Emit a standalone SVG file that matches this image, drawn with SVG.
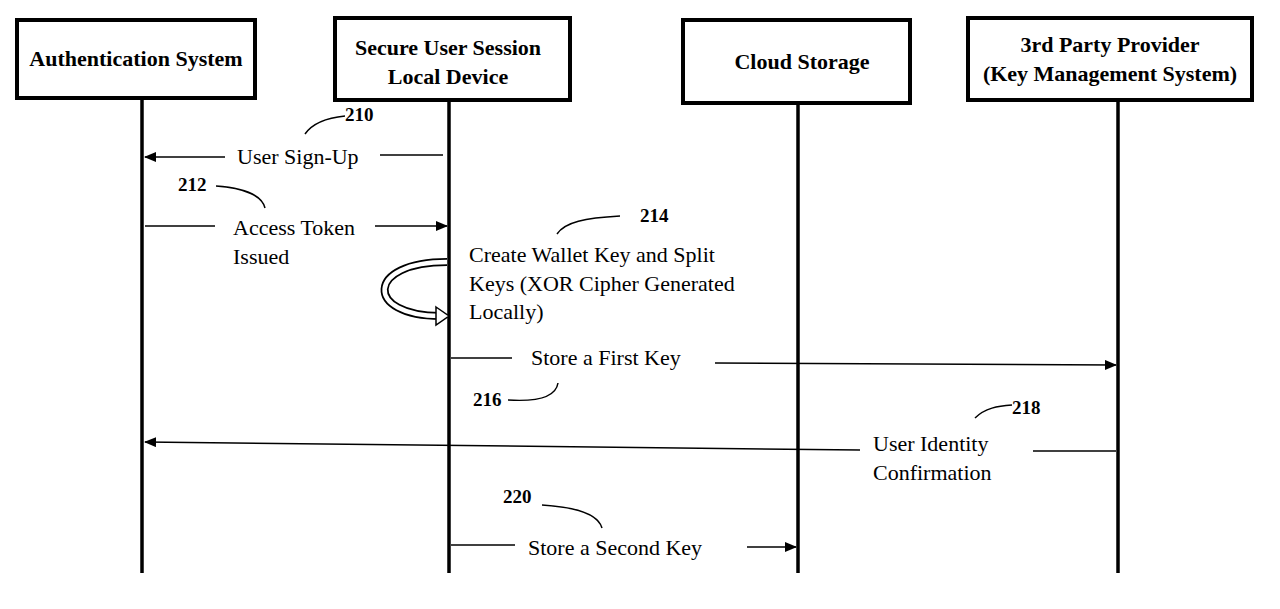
<svg xmlns="http://www.w3.org/2000/svg" width="1280" height="609" viewBox="0 0 1280 609">
<defs>
<marker id="ah" markerWidth="12" markerHeight="10" refX="11" refY="5" orient="auto" markerUnits="userSpaceOnUse"><path d="M0,0 L12,5 L0,10 Z" fill="#000"/></marker>
</defs>
<style>
.box{fill:#fff;stroke:#000;stroke-width:4}
.hd{font-family:"Liberation Serif",serif;font-weight:bold;font-size:22px;text-anchor:middle}
.t{font-family:"Liberation Serif",serif;font-size:22px}
.n{font-family:"Liberation Serif",serif;font-weight:bold;font-size:19px}
.life{stroke:#000;stroke-width:3.5}
.m{stroke:#000;stroke-width:1.5;fill:none}
.c{stroke:#000;stroke-width:1.5;fill:none}
</style>
<rect width="1280" height="609" fill="#fff"/>
<g id="lifelines">
<line class="life" x1="142" y1="98" x2="142" y2="573"/>
<line class="life" x1="449" y1="100" x2="449" y2="573"/>
<line class="life" x1="798" y1="103" x2="798" y2="573"/>
<line class="life" x1="1118" y1="100" x2="1118" y2="573"/>
</g>
<g id="auth"><rect class="box" x="17" y="20" width="238" height="78"/><text class="hd" x="136" y="66">Authentication System</text></g>
<g id="secure"><rect class="box" x="335" y="18" width="235" height="82"/><text class="hd" x="448" y="55">Secure User Session</text><text class="hd" x="448" y="84">Local Device</text></g>
<g id="cloud"><rect class="box" x="683" y="20" width="227" height="83"/><text class="hd" x="802" y="69">Cloud Storage</text></g>
<g id="kms"><rect class="box" x="968" y="18" width="284" height="82"/><text class="hd" x="1110" y="52">3rd Party Provider</text><text class="hd" x="1110" y="81">(Key Management System)</text></g>
<g id="connectors">
<line class="m" x1="225" y1="157" x2="145" y2="157" marker-end="url(#ah)"/>
<line class="m" x1="443" y1="155" x2="380" y2="155"/>
<line class="m" x1="145" y1="226" x2="215" y2="226"/>
<line class="m" x1="375" y1="226" x2="447" y2="226" marker-end="url(#ah)"/>
<path d="M447,262 C365,262 365,316 440,316" stroke="#000" stroke-width="8" fill="none"/>
<path d="M447,262 C365,262 365,316 440,316" stroke="#fff" stroke-width="4.5" fill="none"/>
<path d="M436,307 L449,316 L436,325 Z" fill="#fff" stroke="#000" stroke-width="1.5"/>
<line class="m" x1="451" y1="358" x2="512" y2="358"/>
<line class="m" x1="715" y1="363" x2="1116" y2="365" marker-end="url(#ah)"/>
<line class="m" x1="860" y1="450" x2="145" y2="442" marker-end="url(#ah)"/>
<line class="m" x1="1033" y1="451" x2="1116" y2="451"/>
<line class="m" x1="451" y1="545" x2="515" y2="545"/>
<line class="m" x1="747" y1="547" x2="796" y2="547" marker-end="url(#ah)"/>
<path class="c" d="M305,134 C312,124 325,118 345,116"/>
<path class="c" d="M216,186 C245,188 262,196 265,208"/>
<path class="c" d="M557,234 C565,222 585,218 620,216"/>
<path class="c" d="M508,400 C540,402 556,396 558,383"/>
<path class="c" d="M975,418 C985,408 998,406 1012,405"/>
<path class="c" d="M542,505 C575,507 598,514 602,528"/>
</g>
<g id="labels">
<text class="n" x="345" y="121">210</text>
<text class="t" x="237" y="164">User Sign-Up</text>
<text class="n" x="178" y="191">212</text>
<text class="t" x="233" y="235">Access Token</text>
<text class="t" x="233" y="264">Issued</text>
<text class="n" x="640" y="222">214</text>
<text class="t" x="469" y="262">Create Wallet Key and Split</text>
<text class="t" x="469" y="291">Keys (XOR Cipher Generated</text>
<text class="t" x="469" y="319">Locally)</text>
<text class="t" x="531" y="365">Store a First Key</text>
<text class="n" x="473" y="406">216</text>
<text class="n" x="1012" y="414">218</text>
<text class="t" x="873" y="451">User Identity</text>
<text class="t" x="873" y="480">Confirmation</text>
<text class="n" x="503" y="503">220</text>
<text class="t" x="528" y="555">Store a Second Key</text>
</g>
</svg>
